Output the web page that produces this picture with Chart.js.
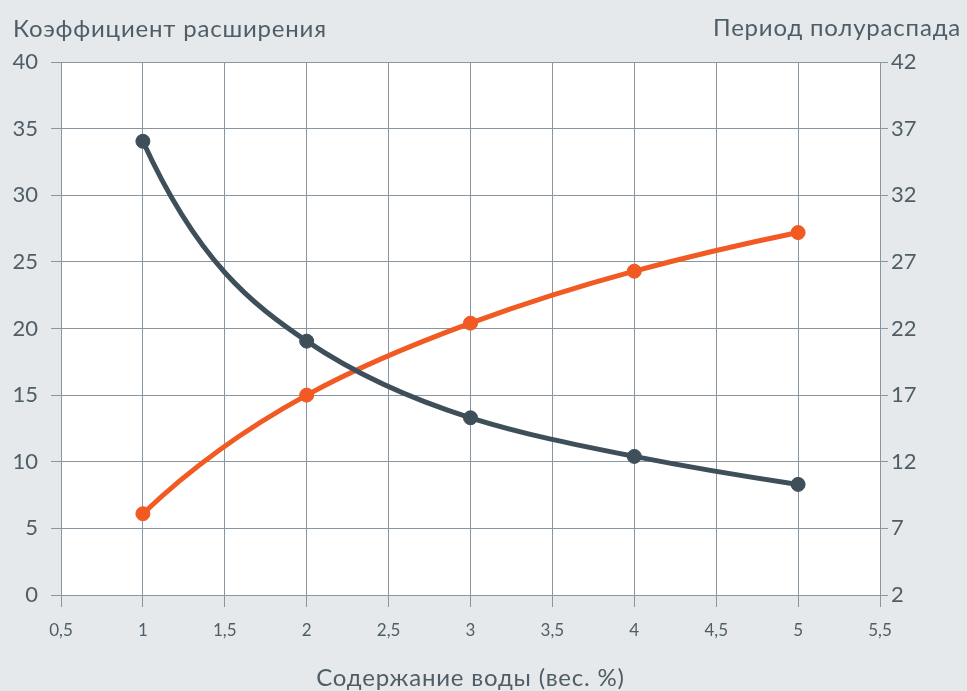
<!DOCTYPE html>
<html>
<head>
<meta charset="utf-8">
<script src="https://cdn.jsdelivr.net/npm/chart.js@4.4.1/dist/chart.umd.min.js"></script>
<style>
  html, body { margin: 0; padding: 0; background: #e6e9ec; }
  #wrap { width: 967px; height: 691px; position: relative; }
</style>
</head>
<body>
<div id="wrap"><canvas id="c" width="967" height="691"></canvas></div>
<script>
const waterContent = [1, 2, 3, 4, 5];
const expansionCoef = [34.05, 19.05, 13.3, 10.4, 8.3];   // left axis
const halfLife = [8.1, 17.0, 22.4, 26.3, 29.2];          // right axis
const xTicks = [0.5, 1, 1.5, 2, 2.5, 3, 3.5, 4, 4.5, 5, 5.5];
const leftTitle = 'Коэффициент расширения';
const rightTitle = 'Период полураспада';
const xTitle = 'Содержание воды (вес. %)';

const TEXT = '#4f5d66';
const GRID = '#8796a1';
const FONT = 'Lato';

const titlesPlugin = {
  id: 'titles',
  afterDraw(chart) {
    const ctx = chart.ctx;
    const a = chart.chartArea;
    ctx.save();
    ctx.fillStyle = TEXT;
    ctx.font = '24px ' + FONT;
    if ('letterSpacing' in ctx) ctx.letterSpacing = '0.8px';
    ctx.textBaseline = 'alphabetic';
    ctx.textAlign = 'left';
    ctx.fillText(leftTitle, 13, 37);
    ctx.textAlign = 'right';
    ctx.fillText(rightTitle, 961, 36);
    ctx.textAlign = 'center';
    ctx.fillText(xTitle, (a.left + a.right) / 2, 686);
    ctx.restore();
  }
};
const bgPlugin = {
  id: 'plotbg',
  beforeDraw(chart) {
    const ctx = chart.ctx, a = chart.chartArea;
    ctx.save();
    ctx.fillStyle = '#e6e9ec';
    ctx.fillRect(0, 0, chart.width, chart.height);
    ctx.fillStyle = '#ffffff';
    ctx.fillRect(a.left, a.top, a.right - a.left, a.bottom - a.top);
    ctx.restore();
  }
};
// Fritsch–Butland monotone cubic tangents (harmonic mean of secants)
const smoothPlugin = {
  id: 'smooth',
  beforeDatasetsDraw(chart) {
    chart.data.datasets.forEach((ds, di) => {
      const meta = chart.getDatasetMeta(di);
      const line = meta.dataset;
      line.updateControlPoints(chart.chartArea, 'x');
      const p = meta.data;
      const n = p.length;
      if (n < 3) return;
      const sec = [];
      for (let i = 0; i < n - 1; i++) sec.push((p[i + 1].y - p[i].y) / (p[i + 1].x - p[i].x));
      const m = new Array(n);
      for (let i = 1; i < n - 1; i++) {
        const a = sec[i - 1], b = sec[i];
        m[i] = (a * b <= 0) ? 0 : 2 / (1 / a + 1 / b);
      }
      const endSlope = (s, mi) => {
        if (mi === 0 || s === 0) return s;
        let v = s * s / mi;
        if (Math.abs(v) > 3 * Math.abs(s)) v = 3 * s;
        return v;
      };
      m[0] = endSlope(sec[0], m[1]);
      m[n - 1] = endSlope(sec[n - 2], m[n - 2]);
      for (let i = 0; i < n; i++) {
        const hl = i > 0 ? (p[i].x - p[i - 1].x) / 3 : 0;
        const hr = i < n - 1 ? (p[i + 1].x - p[i].x) / 3 : 0;
        p[i].cp1x = p[i].x - hl; p[i].cp1y = p[i].y - m[i] * hl;
        p[i].cp2x = p[i].x + hr; p[i].cp2y = p[i].y + m[i] * hr;
      }
    });
  }
};

new Chart(document.getElementById('c'), {
  type: 'line',
  data: {
    datasets: [
      {
        label: leftTitle,
        data: waterContent.map((x, i) => ({ x, y: expansionCoef[i] })),
        yAxisID: 'y',
        borderColor: '#3f4f5a',
        backgroundColor: '#3f4f5a',
        borderWidth: 5,
        pointRadius: 7,
        pointBorderWidth: 1,
        pointHoverRadius: 7,
        cubicInterpolationMode: 'monotone',
        fill: false
      },
      {
        label: rightTitle,
        data: waterContent.map((x, i) => ({ x, y: halfLife[i] })),
        yAxisID: 'y2',
        borderColor: '#f15a22',
        backgroundColor: '#f15a22',
        borderWidth: 5,
        pointRadius: 7,
        pointBorderWidth: 1,
        pointHoverRadius: 7,
        cubicInterpolationMode: 'monotone',
        fill: false
      }
    ]
  },
  options: {
    responsive: false,
    animation: false,
    events: [],
    layout: { padding: { top: 62, left: 0, right: 0, bottom: 0 } },
    plugins: { legend: { display: false }, tooltip: { enabled: false } },
    scales: {
      x: {
        type: 'linear',
        min: 0.5, max: 5.5,
        afterBuildTicks(scale) { scale.ticks = xTicks.map(v => ({ value: v })); },
        afterFit(scale) { scale.height = 96; },
        grid: { color: GRID, lineWidth: 1, tickLength: 12, drawTicks: true },
        border: { display: false },
        ticks: {
          color: TEXT, font: { family: FONT, size: 17 }, padding: 13,
          maxRotation: 0, autoSkip: false,
          callback: v => String(v).replace('.', ',')
        }
      },
      y: {
        position: 'left',
        min: 0, max: 40,
        afterFit(scale) { scale.width = 61; },
        grid: { color: GRID, lineWidth: 1, tickLength: 10 },
        border: { display: false },
        ticks: { stepSize: 5, color: TEXT, font: { family: FONT, size: 22 }, padding: 13 }
      },
      y2: {
        position: 'right',
        min: 2, max: 42,
        afterFit(scale) { scale.width = 87; },
        grid: { color: GRID, lineWidth: 1, tickLength: 8, drawOnChartArea: false },
        border: { display: false },
        ticks: { stepSize: 5, color: TEXT, font: { family: FONT, size: 22 }, padding: 3 }
      }
    }
  },
  plugins: [bgPlugin, smoothPlugin, titlesPlugin]
});
</script>
</body>
</html>
